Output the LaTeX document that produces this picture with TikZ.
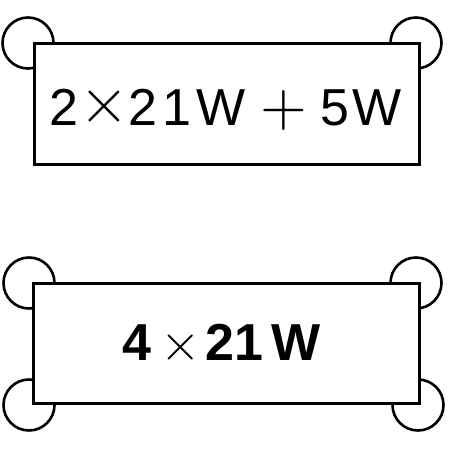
\documentclass[tikz,border=0pt]{standalone}
\usepackage{fontspec}
\setmainfont{Liberation Sans}
\newcommand{\thintimes}[1]{\scalebox{#1}{\fontsize{10}{12}\selectfont$\times$}}
\newcommand{\thinplus}[1]{\scalebox{#1}{\fontsize{10}{12}\selectfont$+$}}
\begin{document}
\begin{tikzpicture}[x=1pt,y=-1pt,
  lamp/.style={circle,draw,line width=2.6pt,minimum size=51pt,inner sep=0pt},
  relay/.style={draw,line width=3pt,fill=white,inner sep=0pt,anchor=north west},
  label/.style={font=\fontsize{52}{60}\selectfont,inner sep=0pt,anchor=base west}]
\useasboundingbox (0,0) rectangle (450,450);
% top
\node[lamp] (c1) at (28,43) {};
\node[lamp] (c2) at (416,43) {};
\node[relay,minimum width=385pt,minimum height=121pt] (b1) at (33,42) {};
\node[label] (t1) at (49,125) {2\kern1pt\raisebox{3pt}{\thintimes{6.4}}2\kern5pt1\kern5pt W\kern15pt\thinplus{6}\kern13pt5\kern3pt W};
% bottom
\node[lamp] (c3) at (29,283) {};
\node[lamp] (c4) at (29,405) {};
\node[lamp] (c5) at (416,283) {};
\node[lamp] (c6) at (418,405) {};
\node[relay,minimum width=386pt,minimum height=120pt] (b2) at (32,282) {};
\node[label,font=\fontsize{52}{60}\selectfont\bfseries] (t2) at (122,360) {4\kern9pt\thintimes{5.2}\kern5pt21\kern8pt W};
\end{tikzpicture}
\end{document}
